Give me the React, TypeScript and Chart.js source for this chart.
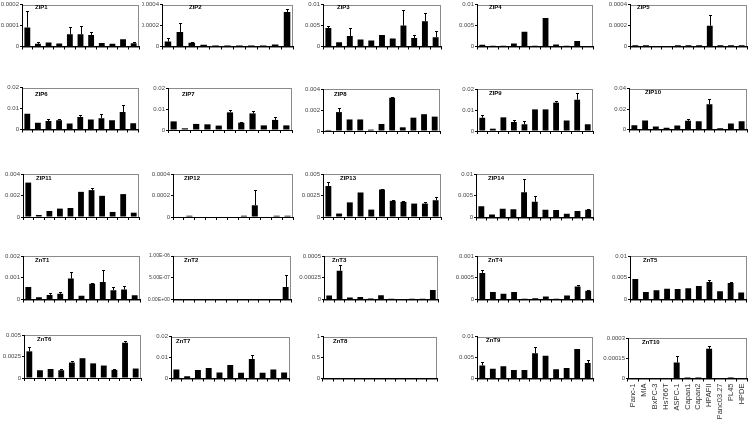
import React, { useEffect, useRef } from "react";
import { Chart, registerables } from "chart.js";
Chart.register(...registerables);

const CELL_LINES = ["Panc-1", "MIA", "BxPC-3", "Hs766T", "ASPC-1", "Capan1", "Capan2", "HPAFII", "Panc03.27", "PL45", "HPDE"];

const ZIP1 = [0.000091, 0.000013, 0.000019, 0.000014, 0.000058, 0.000058, 0.000055, 0.000017, 0.000013, 0.000035, 0.000016];
const ZIP1_ERR = [0.000079, 0.000007, 0, 0, 0.000036, 0.000042, 0.000013, 0, 0, 0, 0.000004];
const ZIP2 = [0.000047, 0.000139, 0.000035, 0.000016, 0.00001, 0.00001, 0.00001, 0.00001, 0.00001, 0.000019, 0.000328];
const ZIP2_ERR = [0.000032, 0.000081, 0.000006, 0, 0, 0, 0, 0, 0, 0, 0.000025];
const ZIP3 = [0.0044, 0.001, 0.0025, 0.00165, 0.0014, 0.00275, 0.0019, 0.005, 0.002, 0.006, 0.0022];
const ZIP3_ERR = [0.0004, 0, 0.002, 0, 0, 0, 0, 0.0036, 0.0007, 0.002, 0.0014];
const ZIP4 = [0.0004, 0.00015, 0.00015, 0.0007, 0.0035, 0.0002, 0.0068, 0.0005, 0.0002, 0.0013, 0.0001];
const ZIP4_ERR = [0, 0, 0, 0, 0, 0, 0, 0, 0, 0, 0];
const ZIP5 = [0.000012, 0.000012, null, null, 0.000012, 0.000012, 0.000012, 0.000198, 0.000012, 0.000012, 0.000012];
const ZIP5_ERR = [0, 0, 0, 0, 0, 0, 0, 0.000098, 0, 0, 0];
const ZIP6 = [0.0075, 0.0032, 0.004, 0.0044, 0.0029, 0.006, 0.0048, 0.0054, 0.0044, 0.0083, 0.003];
const ZIP6_ERR = [0, 0, 0.0008, 0.0008, 0, 0.0011, 0, 0.0022, 0, 0.0033, 0];
const ZIP7 = [0.0041, 0.0008, 0.0029, 0.0027, 0.0021, 0.0084, 0.0035, 0.0079, 0.0022, 0.0048, 0.0022];
const ZIP7_ERR = [0, 0, 0, 0, 0, 0.0011, 0.0005, 0.001, 0, 0.0014, 0];
const ZIP8 = [0.0001, 0.0018, 0.0011, 0.0011, 0.00013, 0.00067, 0.00317, 0.00035, 0.00127, 0.0016, 0.00137];
const ZIP8_ERR = [0, 0.0004, 0, 0, 0, 0, 0.0001, 0, 0, 0, 0];
const ZIP9 = [0.0063, 0.0011, 0.0065, 0.0043, 0.0032, 0.0103, 0.0103, 0.0135, 0.005, 0.0149, 0.0032];
const ZIP9_ERR = [0.0015, 0, 0, 0.0009, 0.0014, 0, 0, 0.0008, 0, 0.0032, 0];
const ZIP10 = [0.0042, 0.0088, 0.003, 0.0016, 0.0039, 0.0085, 0.0081, 0.0247, 0.0013, 0.0059, 0.0081];
const ZIP10_ERR = [0, 0, 0, 0, 0, 0.0015, 0, 0.0049, 0, 0, 0];
const ZIP11 = [0.0032, 0.00019, 0.00056, 0.00078, 0.00084, 0.00234, 0.0025, 0.00197, 0.00047, 0.00213, 0.0004];
const ZIP11_ERR = [0, 0, 0, 0, 0, 0, 0.00016, 0, 0, 0, 0];
const ZIP12 = [null, 0.000012, null, null, null, null, 0.000012, 0.000109, null, 0.000012, 0.000012];
const ZIP12_ERR = [0, 0, 0, 0, 0, 0, 0, 0.000138, 0, 0, 0];
const ZIP13 = [0.0036, 0.0004, 0.0017, 0.00285, 0.00086, 0.0032, 0.00188, 0.00176, 0.00156, 0.00156, 0.00195];
const ZIP13_ERR = [0.0005, 0, 0, 0, 0, 0.0001, 0.00012, 0.00014, 0, 0.00014, 0.00035];
const ZIP14 = [0.0026, 0.0007, 0.002, 0.0019, 0.0058, 0.0036, 0.0018, 0.0017, 0.00085, 0.0015, 0.0018];
const ZIP14_ERR = [0, 0, 0, 0, 0.003, 0.0013, 0, 0, 0, 0, 0.0001];
const ZNT1 = [0.00058, 0.0001, 0.00021, 0.00026, 0.00096, 0.00017, 0.00072, 0.0008, 0.00043, 0.00046, 0.0002];
const ZNT1_ERR = [0, 0, 0.00008, 0.00008, 0.00032, 0, 0.00002, 0.00054, 0.00015, 0.00017, 0];
const ZNT2 = [null, null, null, null, null, null, null, null, null, null, 2.9e-7];
const ZNT2_ERR = [0, 0, 0, 0, 0, 0, 0, 0, 0, 0, 2.7e-7];
const ZNT3 = [0.000046, 0.00033, 0.000023, 0.00003, 0.000011, 0.00005, 0.000008, null, 0.00001, 0.00001, 0.00011];
const ZNT3_ERR = [0, 0.00007, 0, 0, 0, 0, 0, 0, 0, 0, 0];
const ZNT4 = [0.00061, 0.00017, 0.00013, 0.00017, 0.00002, 0.00003, 0.00007, 0.00002, 0.00009, 0.0003, 0.0002];
const ZNT4_ERR = [0.00006, 0, 0, 0, 0, 0, 0, 0, 0, 0.00004, 0.00002];
const ZNT5 = [0.0047, 0.00175, 0.0021, 0.0025, 0.0024, 0.0026, 0.0031, 0.004, 0.0019, 0.0038, 0.0016];
const ZNT5_ERR = [0, 0, 0, 0, 0, 0, 0, 0.0005, 0, 0.0002, 0];
const ZNT6 = [0.0031, 0.0009, 0.00105, 0.0009, 0.0018, 0.0023, 0.0017, 0.00145, 0.00094, 0.0041, 0.0011];
const ZNT6_ERR = [0.0005, 0, 0, 0.00015, 0.0002, 0, 0, 0, 0.00016, 0.0002, 0];
const ZNT7 = [0.0043, 0.0011, 0.004, 0.005, 0.0029, 0.0064, 0.0027, 0.0093, 0.0027, 0.0043, 0.0029];
const ZNT7_ERR = [0, 0, 0, 0, 0, 0, 0, 0.0017, 0, 0, 0];
const ZNT8 = [null, null, null, null, null, null, null, null, null, null, null];
const ZNT8_ERR = [0, 0, 0, 0, 0, 0, 0, 0, 0, 0, 0];
const ZNT9 = [0.0031, 0.0023, 0.0029, 0.002, 0.002, 0.006, 0.0054, 0.0022, 0.0025, 0.007, 0.0037];
const ZNT9_ERR = [0.0009, 0, 0, 0, 0, 0.0014, 0, 0, 0, 0, 0.0006];
const ZNT10 = [null, null, null, null, 0.000118, 0.000007, 0.000007, 0.00022, null, 0.000007, null];
const ZNT10_ERR = [0, 0, 0, 0, 0.000047, 0, 0, 0.000023, 0, 0, 0];

const TICKS_0002 = ["0", "0.0001", "0.0002"];
const TICKS_0004 = ["0", "0.0002", "0.0004"];
const TICKS_0005 = ["0", "0.00025", "0.0005"];
const TICKS_0003 = ["0", "0.00015", "0.0003"];
const TICKS_001 = ["0", "0.0005", "0.001"];
const TICKS_002 = ["0", "0.001", "0.002"];
const TICKS_004 = ["0", "0.002", "0.004"];
const TICKS_005 = ["0", "0.0025", "0.005"];
const TICKS_01 = ["0", "0.005", "0.01"];
const TICKS_02 = ["0", "0.01", "0.02"];
const TICKS_04 = ["0", "0.02", "0.04"];
const TICKS_1 = ["0", "0.5", "1"];
const TICKS_E6 = ["0.00E+00", "5.00E-07", "1.00E-06"];

type PanelDef = { name: string; values: (number | null)[]; errors: number[]; max: number; ticks: string[] };

const PANELS: (PanelDef | null)[] = [
  { name: "ZIP1", values: ZIP1, errors: ZIP1_ERR, max: 0.0002, ticks: TICKS_0002 },
  { name: "ZIP2", values: ZIP2, errors: ZIP2_ERR, max: 0.0004, ticks: TICKS_0004 },
  { name: "ZIP3", values: ZIP3, errors: ZIP3_ERR, max: 0.01, ticks: TICKS_01 },
  { name: "ZIP4", values: ZIP4, errors: ZIP4_ERR, max: 0.01, ticks: TICKS_01 },
  { name: "ZIP5", values: ZIP5, errors: ZIP5_ERR, max: 0.0004, ticks: TICKS_0004 },
  { name: "ZIP6", values: ZIP6, errors: ZIP6_ERR, max: 0.02, ticks: TICKS_02 },
  { name: "ZIP7", values: ZIP7, errors: ZIP7_ERR, max: 0.02, ticks: TICKS_02 },
  { name: "ZIP8", values: ZIP8, errors: ZIP8_ERR, max: 0.004, ticks: TICKS_004 },
  { name: "ZIP9", values: ZIP9, errors: ZIP9_ERR, max: 0.02, ticks: TICKS_02 },
  { name: "ZIP10", values: ZIP10, errors: ZIP10_ERR, max: 0.04, ticks: TICKS_04 },
  { name: "ZIP11", values: ZIP11, errors: ZIP11_ERR, max: 0.004, ticks: TICKS_004 },
  { name: "ZIP12", values: ZIP12, errors: ZIP12_ERR, max: 0.0004, ticks: TICKS_0004 },
  { name: "ZIP13", values: ZIP13, errors: ZIP13_ERR, max: 0.005, ticks: TICKS_005 },
  { name: "ZIP14", values: ZIP14, errors: ZIP14_ERR, max: 0.01, ticks: TICKS_01 },
  null,
  { name: "ZnT1", values: ZNT1, errors: ZNT1_ERR, max: 0.002, ticks: TICKS_002 },
  { name: "ZnT2", values: ZNT2, errors: ZNT2_ERR, max: 1e-6, ticks: TICKS_E6 },
  { name: "ZnT3", values: ZNT3, errors: ZNT3_ERR, max: 0.0005, ticks: TICKS_0005 },
  { name: "ZnT4", values: ZNT4, errors: ZNT4_ERR, max: 0.001, ticks: TICKS_001 },
  { name: "ZnT5", values: ZNT5, errors: ZNT5_ERR, max: 0.01, ticks: TICKS_01 },
  { name: "ZnT6", values: ZNT6, errors: ZNT6_ERR, max: 0.005, ticks: TICKS_005 },
  { name: "ZnT7", values: ZNT7, errors: ZNT7_ERR, max: 0.02, ticks: TICKS_02 },
  { name: "ZnT8", values: ZNT8, errors: ZNT8_ERR, max: 1, ticks: TICKS_1 },
  { name: "ZnT9", values: ZNT9, errors: ZNT9_ERR, max: 0.01, ticks: TICKS_01 },
  { name: "ZnT10", values: ZNT10, errors: ZNT10_ERR, max: 0.0003, ticks: TICKS_0003 },
];

// [canvasLeft, plotLeft, plotTop, plotRight, plotBottom, titleX, titleY]
const LAYOUT: (number[] | null)[] = [
  [0, 22, 4.5, 139, 46.5, 35, 7.5],
  [142, 162, 4.5, 293, 46.5, 189, 7.5],
  [296, 323, 4.5, 441, 46.5, 337, 7.5],
  [446, 477, 4.5, 593, 46.5, 489, 7.5],
  [596, 630, 4.5, 747, 46.5, 637, 7.5],
  [0, 22, 87.5, 138.5, 129.5, 35, 94],
  [142, 168, 88, 292, 130, 182, 94],
  [296, 323, 89, 440, 131, 334, 94],
  [446, 477, 89, 593, 131, 489, 93],
  [596, 629, 88.5, 747, 129.5, 645, 92.5],
  [0, 23, 174, 139, 217, 36, 178.5],
  [142, 173, 174, 293, 217, 184, 178.5],
  [296, 323, 174, 441, 217, 340, 178.5],
  [446, 476, 174, 593.5, 217.5, 488, 178.5],
  null,
  [0, 23, 256, 140, 299.5, 35, 260],
  [142, 173, 256, 291, 299.5, 184, 260],
  [296, 324, 256, 438, 299.5, 332, 260],
  [446, 477, 256, 593.5, 299.5, 488, 260],
  [596, 630, 256, 746.5, 299.5, 643, 260],
  [0, 24, 335, 141, 378, 37, 339],
  [142, 171, 336.5, 289.5, 378.5, 176, 341],
  [296, 323, 336.5, 437, 378.5, 333, 341],
  [446, 477, 336.5, 593, 378.5, 486, 340.5],
  [596, 628, 338, 747, 378.5, 642, 342],
];

const FONT = '"Liberation Sans", Arial, sans-serif';

function Panel({ p, box, showX }: { p: PanelDef; box: number[]; showX: boolean }) {
  const ref = useRef<HTMLCanvasElement>(null);
  const [cl, pl, pt, pr, pb, tx, ty] = box;
  const top = Math.floor(pt) - 6;
  const left = cl;
  const bottomEdge = showX ? 421 : Math.ceil(pb) + 4;
  const width = Math.ceil(pr) + 2 - left;
  const height = bottomEdge - top;

  useEffect(() => {
    const canvas = ref.current;
    if (!canvas) return;
    const plugin = {
      id: "panelDeco",
      beforeDraw(chart: any) {
        const { ctx, chartArea: a } = chart;
        ctx.save();
        ctx.strokeStyle = "#8a8a8a";
        ctx.lineWidth = 1;
        ctx.strokeRect(Math.round(a.left) + 0.5, Math.round(a.top) + 0.5, Math.round(a.right - a.left) - 1, Math.round(a.bottom - a.top));
        ctx.restore();
      },
      afterDatasetsDraw(chart: any) {
        const { ctx } = chart;
        const meta = chart.getDatasetMeta(0);
        const ys = chart.scales.y;
        ctx.save();
        ctx.strokeStyle = "#000";
        ctx.lineWidth = 1;
        meta.data.forEach((bar: any, i: number) => {
          const v = p.values[i];
          const e = p.errors[i];
          if (v == null || !e) return;
          const x = Math.round(bar.x) + 0.5;
          const y0 = bar.y;
          const y1 = Math.round(ys.getPixelForValue(v + e)) + 0.5;
          ctx.beginPath();
          ctx.moveTo(x, y0);
          ctx.lineTo(x, y1);
          ctx.moveTo(x - 1.5, y1);
          ctx.lineTo(x + 1.5, y1);
          ctx.stroke();
        });
        ctx.fillStyle = "#000";
        ctx.font = "bold 6px " + FONT;
        ctx.textAlign = "left";
        ctx.textBaseline = "middle";
        ctx.fillText(p.name, tx - left, ty - top);
        ctx.restore();
      },
    };
    const chart = new Chart(canvas, {
      type: "bar",
      data: {
        labels: CELL_LINES,
        datasets: [
          {
            data: p.values as any,
            backgroundColor: "#000",
            borderWidth: 0,
            barPercentage: 0.55,
            categoryPercentage: 1,
          },
        ],
      },
      options: {
        animation: false,
        responsive: false,
        devicePixelRatio: 1,
        layout: { padding: { top: pt - top, right: left + width - pr, left: 0, bottom: 0 } },
        plugins: { legend: { display: false }, tooltip: { enabled: false }, title: { display: false } },
        scales: {
          x: {
            grid: { display: true, drawOnChartArea: false, drawTicks: true, tickLength: 3, color: "#000", lineWidth: 1 },
            border: { color: "#000", width: 1 },
            ticks: {
              display: showX,
              autoSkip: false,
              minRotation: 90,
              maxRotation: 90,
              padding: 2,
              color: "#333",
              font: { size: 7.5, family: FONT },
            },
            afterFit: (s: any) => {
              s.height = top + height - pb;
              s.paddingLeft = 0;
              s.paddingRight = 0;
            },
          },
          y: {
            min: 0,
            max: p.max,
            grid: { display: true, drawOnChartArea: false, drawTicks: true, tickLength: 2, color: "#000", lineWidth: 1 },
            border: { color: "#000", width: 1 },
            ticks: {
              padding: 1,
              color: "#444",
              font: { size: p.name === "ZnT2" ? 5.2 : 6, family: FONT },
              callback: (_v: any, i: number) => p.ticks[i],
            },
            afterBuildTicks: (s: any) => {
              s.ticks = [0, p.max / 2, p.max].map((value) => ({ value }));
            },
            afterFit: (s: any) => {
              s.width = pl - left;
              s.paddingTop = 0;
              s.paddingBottom = 0;
            },
          },
        },
      } as any,
      plugins: [plugin],
    });
    return () => chart.destroy();
  }, []);

  return (
    <canvas
      ref={ref}
      width={width}
      height={height}
      style={{ position: "absolute", left, top, width, height, display: "block" }}
    />
  );
}

export default function App() {
  return (
    <div style={{ position: "absolute", left: 0, top: 0, width: 750, height: 421, background: "#fff", overflow: "hidden" }}>
      {PANELS.map((p, i) => {
        const box = LAYOUT[i];
        if (!p || !box) return null;
        return <Panel key={p.name} p={p} box={box} showX={p.name === "ZnT10"} />;
      })}
    </div>
  );
}
